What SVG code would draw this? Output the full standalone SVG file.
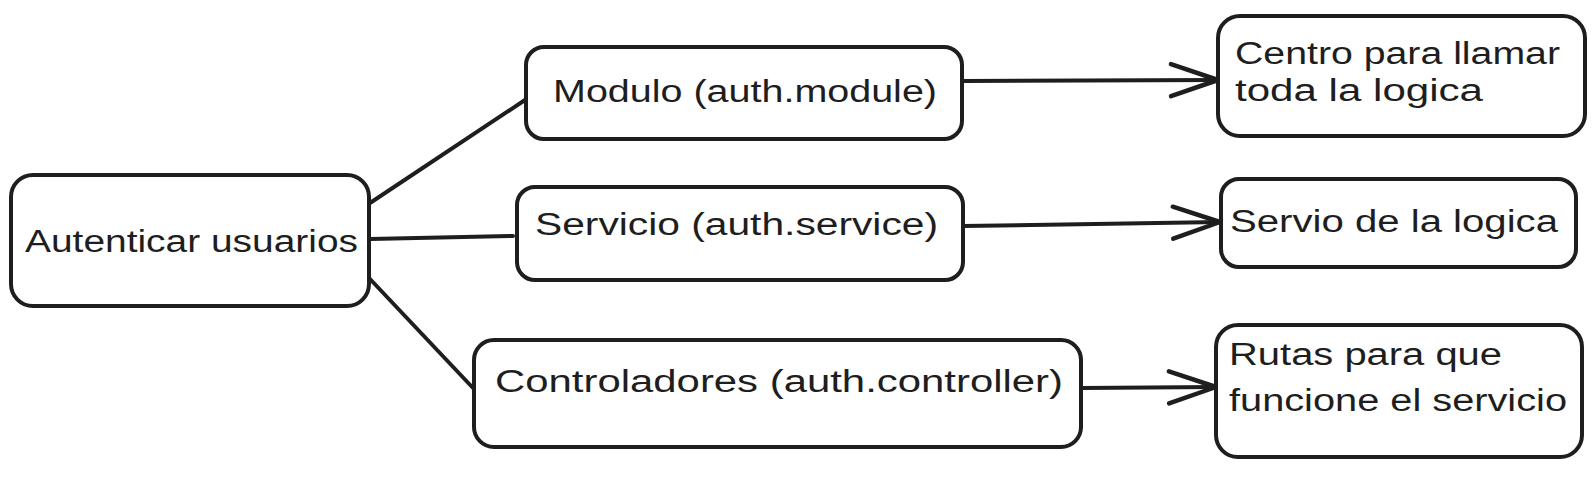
<svg xmlns="http://www.w3.org/2000/svg" width="1592" height="485" viewBox="0 0 1592 485">
  <defs>
    <style>
      .box { fill: #ffffff; stroke: #1e1e1e; stroke-width: 4; stroke-linejoin: round; }
      .lbl { font-family: "Liberation Sans", Arial, sans-serif; font-size: 31px; fill: #1e1e1e; }
      .edge { fill: none; stroke: #1e1e1e; stroke-width: 4; stroke-linecap: round; }
    </style>
    <marker id="arrow" markerUnits="userSpaceOnUse" markerWidth="60" markerHeight="44" viewBox="-55 -22 60 44" refX="0" refY="0" orient="auto" overflow="visible">
      <path d="M-47,-16 L0,0 L-47,16" fill="none" stroke="#1e1e1e" stroke-width="4.5" stroke-linecap="round" stroke-linejoin="round"/>
    </marker>
  </defs>
  <rect width="1592" height="485" fill="#ffffff"/>

  <g id="connectors">
    <path class="edge" d="M370,203 L525,100"/>
    <path class="edge" d="M370,239 L513,236"/>
    <path class="edge" d="M370,279 L473,388"/>
    <path class="edge" d="M963,81 L1218,80" marker-end="url(#arrow)"/>
    <path class="edge" d="M963,226 L1220,222" marker-end="url(#arrow)"/>
    <path class="edge" d="M1082,388 L1216,387" marker-end="url(#arrow)"/>
  </g>

  <g id="node-autenticar">
    <rect class="box" x="11" y="175" width="358" height="131" rx="22"/>
    <text class="lbl" x="25" y="252" textLength="333" lengthAdjust="spacingAndGlyphs">Autenticar usuarios</text>
  </g>

  <g id="node-modulo">
    <rect class="box" x="526" y="47" width="436" height="92" rx="18"/>
    <text class="lbl" x="553" y="102" textLength="384" lengthAdjust="spacingAndGlyphs">Modulo (auth.module)</text>
  </g>

  <g id="node-servicio">
    <rect class="box" x="517" y="187" width="446" height="93" rx="18"/>
    <text class="lbl" x="535" y="235" textLength="403" lengthAdjust="spacingAndGlyphs">Servicio (auth.service)</text>
  </g>

  <g id="node-controladores">
    <rect class="box" x="474" y="340" width="607" height="107" rx="20"/>
    <text class="lbl" x="495" y="392" textLength="568" lengthAdjust="spacingAndGlyphs">Controladores (auth.controller)</text>
  </g>

  <g id="node-centro">
    <rect class="box" x="1218" y="16" width="367" height="120" rx="22"/>
    <text class="lbl" x="1235" y="64" textLength="325" lengthAdjust="spacingAndGlyphs">Centro para llamar</text>
    <text class="lbl" x="1235" y="101" textLength="248" lengthAdjust="spacingAndGlyphs">toda la logica</text>
  </g>

  <g id="node-servio">
    <rect class="box" x="1221" y="179" width="355" height="88" rx="18"/>
    <text class="lbl" x="1230" y="232" textLength="328" lengthAdjust="spacingAndGlyphs">Servio de la logica</text>
  </g>

  <g id="node-rutas">
    <rect class="box" x="1216" y="325" width="366" height="132" rx="22"/>
    <text class="lbl" x="1229" y="365" textLength="273" lengthAdjust="spacingAndGlyphs">Rutas para que</text>
    <text class="lbl" x="1229" y="411" textLength="338" lengthAdjust="spacingAndGlyphs">funcione el servicio</text>
  </g>
</svg>
